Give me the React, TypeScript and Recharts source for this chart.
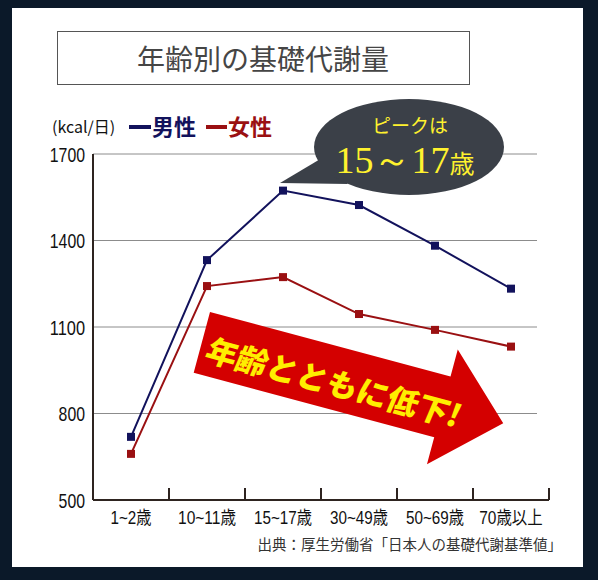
import React from "react";
import { LineChart, Line, XAxis, YAxis, CartesianGrid } from "recharts";

// 年齢別の基礎代謝量 (kcal/日)
const ageGroups = ["1~2歳", "10~11歳", "15~17歳", "30~49歳", "50~69歳", "70歳以上"];
const maleValues = [719, 1332, 1573, 1523, 1382, 1233];
const femaleValues = [660, 1242, 1273, 1145, 1090, 1032];
const yTicks = [500, 800, 1100, 1400, 1700];

const MALE = "#12125c";
const FEMALE = "#9a1012";
const AXIS = "#2e2420";
const JP = '"Noto Sans CJK JP", "Noto Sans", sans-serif';
const SANS = '"Liberation Sans", "Noto Sans CJK JP", sans-serif';

// categories sit between integer boundaries: boundary ticks 0..n, labels at i + 0.5
const chartData = ageGroups.map((age, i) => ({
  age,
  pos: i + 0.5,
  male: maleValues[i],
  female: femaleValues[i],
}));
const xTicks = ageGroups.flatMap((_, i) => [i, i + 0.5]).concat(ageGroups.length);

// squeeze labels like the condensed face in the original
const condensedWidth = (s: string) =>
  Array.from(s).reduce((w, ch) => w + (ch.charCodeAt(0) > 0x2000 && ch !== "~" ? 15.5 : 8.5), 0);

const XTick = (props: any) => {
  const { x, y, payload } = props;
  const v = payload.value;
  if (Number.isInteger(v)) {
    return <line x1={x} x2={x} y1={y - 12} y2={y} stroke={AXIS} strokeWidth={2} />;
  }
  const label = ageGroups[Math.floor(v)];
  return (
    <text
      x={x - condensedWidth(label) / 2}
      y={y + 24}
      fontSize={18}
      fill="#111"
      fontFamily={SANS}
      textLength={condensedWidth(label)}
      lengthAdjust="spacingAndGlyphs"
    >
      {label}
    </text>
  );
};

const YTick = (props: any) => {
  const { x, y, payload } = props;
  const label = String(payload.value);
  const w = label.length * 8.8;
  return (
    <text
      x={x - w}
      y={y + 7.5}
      fontSize={21}
      fill="#111"
      fontFamily={SANS}
      textLength={w}
      lengthAdjust="spacingAndGlyphs"
    >
      {label}
    </text>
  );
};

const squareDot = (color: string) => (props: any) => (
  <rect
    key={`dot-${props.index}`}
    x={props.cx - 4}
    y={props.cy - 4}
    width={8}
    height={8}
    fill={color}
  />
);

const gridLine = (p: any) =>
  p.y1 >= 499 ? (
    <g key={`g-${p.index}`} />
  ) : (
    <line
      key={`g-${p.index}`}
      x1={p.x1}
      x2={p.x2 - 12}
      y1={p.y1}
      y2={p.y2}
      stroke="#8c8c8c"
      strokeWidth={1}
    />
  );

export default function App() {
  return (
    <div
      style={{
        position: "absolute",
        left: 0,
        top: 0,
        width: 598,
        height: 580,
        background: "#0b1929",
        fontFamily: JP,
      }}
    >
      <div
        style={{
          position: "absolute",
          left: 12,
          top: 8,
          width: 571,
          height: 559,
          background: "#fff",
        }}
      />
      <div style={{ position: "absolute", left: 0, top: 0 }}>
        <LineChart
          width={598}
          height={580}
          data={chartData}
          margin={{ top: 154, right: 49, bottom: 50, left: 8 }}
        >
          <CartesianGrid vertical={false} horizontal={gridLine} />
          <XAxis
            dataKey="pos"
            type="number"
            domain={[0, ageGroups.length]}
            ticks={xTicks}
            interval={0}
            height={30}
            tickSize={0}
            tickMargin={0}
            tickLine={false}
            tick={<XTick />}
            axisLine={{ stroke: AXIS, strokeWidth: 2 }}
          />
          <YAxis
            domain={[500, 1700]}
            ticks={yTicks}
            width={85}
            tickSize={0}
            tickMargin={8}
            tickLine={false}
            axisLine={{ stroke: AXIS, strokeWidth: 2 }}
            tick={<YTick />}
          />
          <Line
            dataKey="male"
            stroke={MALE}
            strokeWidth={2}
            dot={squareDot(MALE)}
            isAnimationActive={false}
          />
          <Line
            dataKey="female"
            stroke={FEMALE}
            strokeWidth={2}
            dot={squareDot(FEMALE)}
            isAnimationActive={false}
          />
        </LineChart>
      </div>

      <svg
        width={598}
        height={580}
        style={{ position: "absolute", left: 0, top: 0, pointerEvents: "none" }}
      >
        {/* title */}
        <rect x={57.5} y={31.5} width={412} height={53} fill="#fff" stroke="#555" strokeWidth={1} />
        <text
          x={263}
          y={58}
          textAnchor="middle"
          dominantBaseline="central"
          fontSize={28}
          fill="#454545"
          fontFamily={JP}
        >
          年齢別の基礎代謝量
        </text>

        {/* unit + legend */}
        <text x={52} y={133} fontSize={16} fill="#111" fontFamily={JP}>
          (kcal/日)
        </text>
        <line x1={129} x2={151} y1={127} y2={127} stroke={MALE} strokeWidth={4} />
        <text x={152} y={135} fontSize={22} fontWeight={700} fill={MALE} fontFamily={JP}>
          男性
        </text>
        <line x1={206} x2={227} y1={127} y2={127} stroke={FEMALE} strokeWidth={4} />
        <text x={228} y={135} fontSize={22} fontWeight={700} fill={FEMALE} fontFamily={JP}>
          女性
        </text>

        {/* speech bubble */}
        <polygon points="280,183 322,158 348,184" fill="#3b4048" />
        <ellipse cx={409} cy={147} rx={95} ry={48} fill="#3b4048" />
        <text x={410} y={133} textAnchor="middle" fontSize={19} fill="#fff22e" fontFamily={JP}>
          ピークは
        </text>
        <text x={405} y={173} textAnchor="middle" fill="#fff22e">
          <tspan fontSize={38} fontFamily='"Liberation Serif", "DejaVu Serif", serif'>
            15～17
          </tspan>
          <tspan fontSize={25} fontFamily={JP}>
            歳
          </tspan>
        </text>

        {/* arrow */}
        <g transform="translate(210,312) rotate(15)">
          <polygon points="0,0 249,0 249,-28 312,31.5 249,91 249,63 0,63" fill="#d40000" />
          <text
            x={12}
            y={48}
            fontSize={31}
            fontWeight={900}
            fill="#ffee00"
            fontFamily={JP}
            textLength={262}
            lengthAdjust="spacingAndGlyphs"
            transform="skewX(-8)"
          >
            年齢とともに低下!
          </text>
        </g>

        {/* source */}
        <text x={562} y={550} textAnchor="end" fontSize={14.5} fill="#333" fontFamily={JP}>
          出典：厚生労働省「日本人の基礎代謝基準値」
        </text>
      </svg>
    </div>
  );
}
